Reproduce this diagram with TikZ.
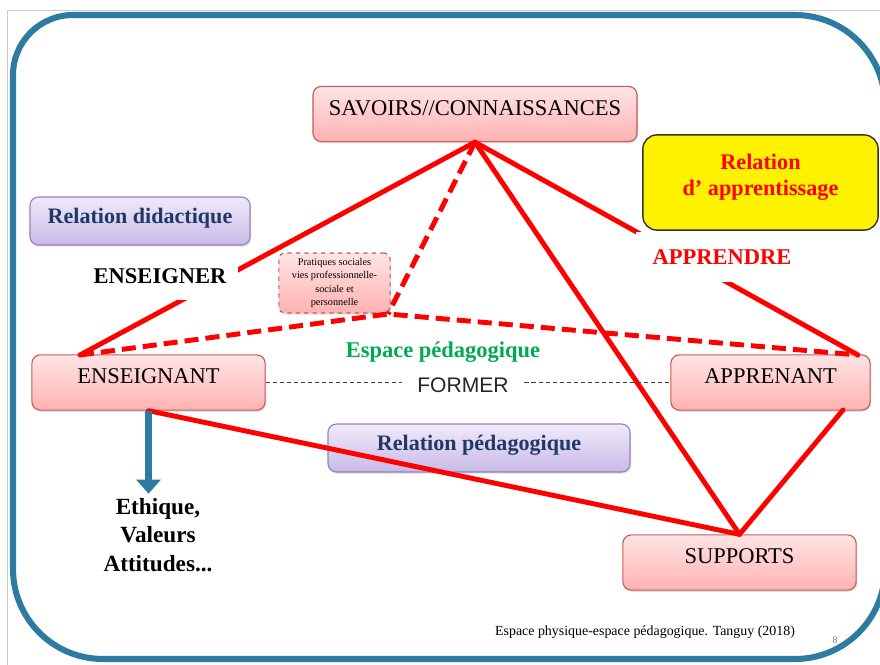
\documentclass[tikz,border=0pt]{standalone}
\usepackage{fontspec}
\setmainfont{Liberation Serif}
\newfontfamily\arialfont{Liberation Sans}
\usetikzlibrary{arrows.meta,positioning,shadows}

\definecolor{frameblue}{RGB}{46,122,160}
\definecolor{pinktop}{RGB}{255,228,228}
\definecolor{pinkbot}{RGB}{255,178,178}
\definecolor{pinkdraw}{RGB}{200,90,90}
\definecolor{lilatop}{RGB}{240,234,250}
\definecolor{lilabot}{RGB}{200,186,232}
\definecolor{liladraw}{RGB}{150,130,190}
\definecolor{navytext}{RGB}{31,56,100}
\definecolor{greentext}{RGB}{0,170,80}

\begin{document}
\begin{tikzpicture}[
      x=0.025cm, y=-0.025cm,
      pinkbox/.style={
         rounded corners=6pt,
         draw=pinkdraw,
         line width=0.8pt,
         top color=pinktop,
         bottom color=pinkbot,
         drop shadow={opacity=0.25,shadow xshift=0.8pt,shadow yshift=-1.2pt},
         minimum height=1.38cm,
         text depth=9pt,
         font=\fontsize{16}{18}\selectfont},
      lilabox/.style={
         rounded corners=6pt,
         draw=liladraw,
         line width=0.8pt,
         top color=lilatop,
         bottom color=lilabot,
         drop shadow={opacity=0.25,shadow xshift=0.8pt,shadow yshift=-1.2pt},
         minimum height=1.2cm,
         text depth=7pt,
         text=navytext,
         font=\bfseries\fontsize{15.7}{18}\selectfont},
      redline/.style={red, line width=3.5pt, line cap=round},
      reddash/.style={red, line width=3.5pt, dash pattern=on 10pt off 5pt},
      formerline/.style={densely dashed, line width=0.7pt, black!75},
      gapnode/.style={fill=white, inner sep=0pt, font=\bfseries\fontsize{16}{18}\selectfont}
      ]
      \useasboundingbox (0,0) rectangle (880,664);
      \clip (0,0) rectangle (880,664);

      % page and frame
      \draw[black!20, line width=0.6pt] (7,10) rectangle (900,700);
      \draw[frameblue, line width=4.3pt] (13,330) [rounded corners=1.5cm] |- (450,15)
         [rounded corners=2.25cm] -| (885,330) |- (450,659) -| (13,330) -- cycle;

      % boxes
      \node[pinkbox, minimum width=8.1cm] (sav) at (475,114) {SAVOIRS//CONNAISSANCES};
      \node[pinkbox, minimum width=5.83cm] (ens) at (148.5,382.5) {ENSEIGNANT};
      \node[pinkbox, minimum width=4.98cm] (app) at (770.5,382.5) {APPRENANT};
      \node[pinkbox, minimum width=5.83cm] (sup) at (739.5,562.5) {SUPPORTS};
      \node[pinkbox, dashed, rounded corners=4pt, minimum width=2.78cm, minimum height=1.5cm,
         text depth=, align=center, font=\fontsize{7.3}{9.6}\selectfont] (prat) at (334.5,283)
         {Pratiques sociales\\vies professionnelle-\\sociale et\\personnelle};
      \node[lilabox, minimum width=5.5cm] (did) at (140,221) {Relation didactique};
      \node[lilabox, minimum width=7.55cm] (ped) at (479,448) {Relation pédagogique};
      \node[draw=black!80, line width=1pt, fill=yellow, rounded corners=10pt,
         minimum width=5.88cm, minimum height=2.38cm, align=center, text=red,
         font=\bfseries\fontsize{15.8}{19}\selectfont] (rapp) at (760.5,182.5)
         {Relation\\d’ apprentissage\\[-8pt]\mbox{}};

      \coordinate (ensT) at (80,355);
      \coordinate (appT) at (858,355);
      \coordinate (appB) at (843,410);
      \coordinate (psoc) at (388,314);

      % triangles
      \foreach \a/\b in {% from/to
        sav.south/ensT,
        sav.south/appT,
        sav.south/sup.north,
        ens.south/sup.north,
        appB/sup.north}
        \draw[redline] (\a) -- (\b);
      \draw[reddash] (sav.south) -- (psoc);
      \draw[reddash] (ensT) -- (psoc) -- (appT);

      % verbs
      \node[gapnode, minimum width=3.9cm, minimum height=1.2cm] (enseigner) at (160,276) {ENSEIGNER};
      \node[gapnode, minimum width=4.3cm, minimum height=1.225cm, text=red] (apprendre) at (722,257) {APPRENDRE};
      \node[font=\arialfont\fontsize{15}{17}\selectfont, inner xsep=11pt, text=black!85] (former) at (463,385) {FORMER};
      \draw[formerline] (ens.east) -- (ens.east -| former.west);
      \draw[formerline] (app.west -| former.east) -- (app.west);
      \node[text=greentext, font=\bfseries\fontsize{16}{18}\selectfont] (espace) at (443,352) {Espace pédagogique};

      % values
      \node[align=center, font=\bfseries\fontsize{16.5}{20}\selectfont] (ethique) at (158,535)
         {Ethique,\\Valeurs\\Attitudes...};
      \draw[frameblue, line width=5pt, -{Triangle[width=17pt,length=10pt]}]
         (ens.south) -- (ens.south |- ethique.north);

      % source
      \node[font=\fontsize{9.9}{11}\selectfont] (source) at (645,632) {Espace physique-espace pédagogique. Tanguy (2018)};
      \node[font=\fontsize{7}{8}\selectfont, text=black!55] (page) at (835,640) {8};
\end{tikzpicture}
\end{document}
